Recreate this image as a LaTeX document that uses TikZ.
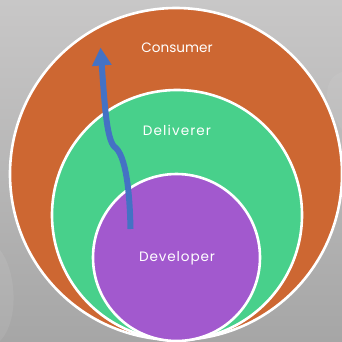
\documentclass[tikz,border=0pt]{standalone}
\usepackage{fontspec}
\setmainfont{Poppins}
\usetikzlibrary{arrows.meta}
\definecolor{bgtop}{HTML}{C8C7C7}
\definecolor{bgbot}{HTML}{A6A6A6}
\definecolor{cons}{HTML}{CD6732}
\definecolor{deli}{HTML}{48D08B}
\definecolor{deve}{HTML}{A259CE}
\definecolor{flow}{HTML}{4472C4}
\tikzset{
  ring/.style={circle,draw=white,line width=2.6pt,inner sep=0pt,outer sep=0pt},
  lbl/.style={text=white,font=\fontsize{13.6}{18}\selectfont,inner sep=0pt},
  flowline/.style={draw=flow,line width=6pt,-{Triangle[length=18pt,width=18.5pt]}}
}
\begin{document}
\begin{tikzpicture}[x=1pt,y=-1pt]
\useasboundingbox (0,0) rectangle (342,341);
\shade[top color=bgtop,bottom color=bgbot] (0,0) rectangle (342,341);
\fill[white,opacity=.08] (0,250) .. controls (16,270) and (20,320) .. (0,341) -- cycle;
\fill[white,opacity=.06] (342,72) .. controls (325,78) and (325,95) .. (330,110) -- (342,130) -- cycle;
\node[ring,fill=cons,minimum size=332pt] (consumer) at (176,174) {};
\node[ring,fill=deli,minimum size=250pt] (deliverer) at (177,215) {};
\node[ring,fill=deve,minimum size=167pt] (developer) at (176.5,257.5) {};
\node[lbl] (tconsumer) at (177,48) {Consumer};
\node[lbl] (tdeliverer) at (177,130) {\addfontfeatures{LetterSpace=8}Deliverer};
\node[lbl] (tdeveloper) at (177,258) {\addfontfeatures{LetterSpace=6.5}Developer};
\coordinate (flowstart) at (130.5,229);
\coordinate (flowend) at (100.5,47.5);
\path[flowline] (flowstart) .. controls (130,205) and (128,160) .. (116,148)
  .. controls (107,143) and (105,110) .. (flowend);
\end{tikzpicture}
\end{document}
